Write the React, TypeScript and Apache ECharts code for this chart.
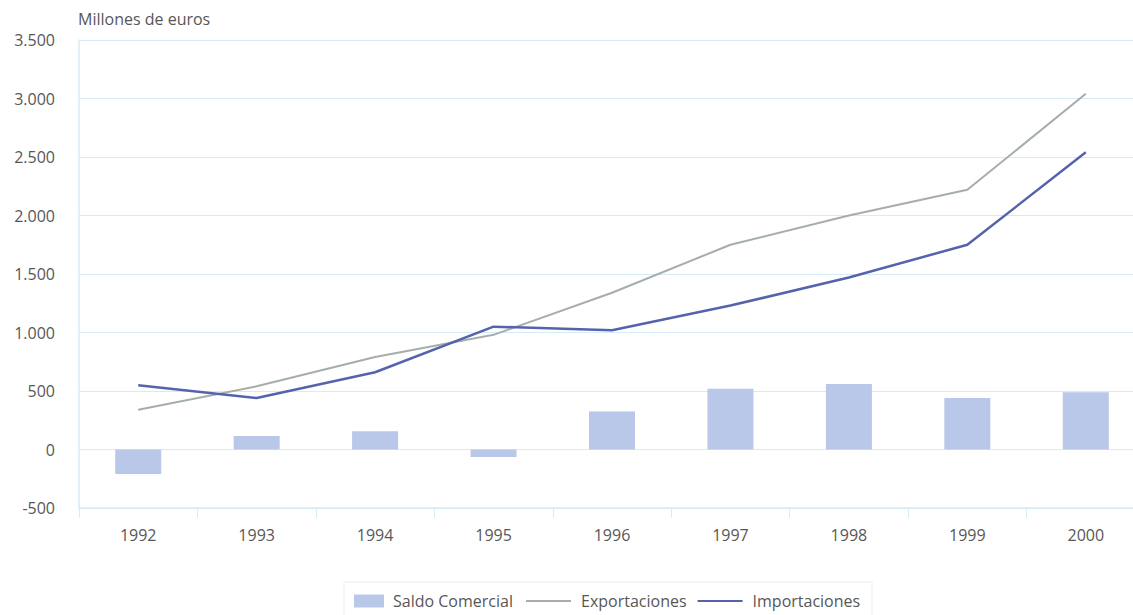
import React, { useEffect, useRef } from "react";
import * as echarts from "echarts";

const years = ["1992", "1993", "1994", "1995", "1996", "1997", "1998", "1999", "2000"];
const saldoComercial = [-210, 115, 155, -65, 325, 520, 560, 440, 490];
const exportaciones = [340, 540, 790, 980, 1340, 1750, 2000, 2220, 3040];
const importaciones = [550, 440, 660, 1050, 1020, 1230, 1470, 1750, 2540];

const FONT = "'Open Sans', 'Noto Sans', sans-serif";
const GRID_COLOR = "#d5ebf7";
const TEXT_COLOR = "#575757";

function fmt(v: number): string {
  const s = Math.abs(v).toString().replace(/\B(?=(\d{3})+(?!\d))/g, ".");
  return (v < 0 ? "-" : "") + s;
}

export default function App() {
  const ref = useRef<HTMLDivElement>(null);
  useEffect(() => {
    document.body.style.margin = "0";
    document.body.style.overflow = "hidden";
    document.documentElement.style.overflow = "hidden";
    if (!ref.current) return;
    const chart = echarts.init(ref.current, undefined, { renderer: "svg" });
    chart.setOption({
      animation: false,
      backgroundColor: "#ffffff",
      textStyle: { fontFamily: FONT },
      grid: { left: 79, right: 5, top: 40, bottom: 107, containLabel: false },
      graphic: [
        {
          type: "text",
          left: 78,
          top: 11,
          style: { text: "Millones de euros", fontSize: 16, fill: TEXT_COLOR, fontFamily: FONT },
        },
        {
          type: "rect",
          shape: { x: 344, y: 582, width: 528, height: 40 },
          style: { fill: "none", stroke: "#e2f0f8", lineWidth: 1 },
          z: -1,
        },
      ],
      legend: [
        {
          left: 354,
          top: 593,
          padding: 0,
          itemWidth: 30,
          itemHeight: 13,
          textStyle: { fontSize: 16, color: TEXT_COLOR, fontFamily: FONT, padding: [0, 0, 0, 4] },
          data: [{ name: "Saldo Comercial", icon: "rect" }],
        },
        {
          left: 525,
          top: 593,
          padding: 0,
          itemGap: 10,
          itemWidth: 45,
          itemHeight: 13,
          textStyle: { fontSize: 16, color: TEXT_COLOR, fontFamily: FONT, padding: [0, 0, 0, 5] },
          data: [
            { name: "Exportaciones", itemStyle: { opacity: 0 }, lineStyle: { opacity: 1 } },
            { name: "Importaciones", itemStyle: { opacity: 0 }, lineStyle: { opacity: 1 } },
          ],
        },
      ],
      xAxis: {
        type: "category",
        data: years,
        boundaryGap: true,
        axisLine: { show: true, onZero: false, lineStyle: { color: GRID_COLOR, width: 1.5 } },
        axisTick: { show: true, length: 10, lineStyle: { color: GRID_COLOR } },
        axisLabel: { fontSize: 16, color: TEXT_COLOR, margin: 19, fontFamily: FONT },
      },
      yAxis: {
        type: "value",
        min: -500,
        max: 3500,
        interval: 500,
        axisLine: { show: true, lineStyle: { color: GRID_COLOR, width: 1.5 } },
        axisTick: { show: false },
        splitLine: { show: true, lineStyle: { color: GRID_COLOR, width: 1 } },
        axisLabel: { fontSize: 16, color: TEXT_COLOR, margin: 24, fontFamily: FONT, formatter: (v: number) => fmt(v) },
      },
      series: [
        {
          name: "Saldo Comercial",
          type: "bar",
          data: saldoComercial,
          barWidth: 46,
          itemStyle: { color: "#b9c7e8" },
        },
        {
          name: "Exportaciones",
          type: "line",
          data: exportaciones,
          symbol: "none",
          lineStyle: { color: "#a5aeaa", width: 2 },
          itemStyle: { color: "#a5aeaa" },
        },
        {
          name: "Importaciones",
          type: "line",
          data: importaciones,
          symbol: "none",
          lineStyle: { color: "#5563ad", width: 2.5 },
          itemStyle: { color: "#5563ad" },
        },
      ],
    });
    return () => chart.dispose();
  }, []);
  return <div ref={ref} style={{ width: 1150, height: 615 }} />;
}
